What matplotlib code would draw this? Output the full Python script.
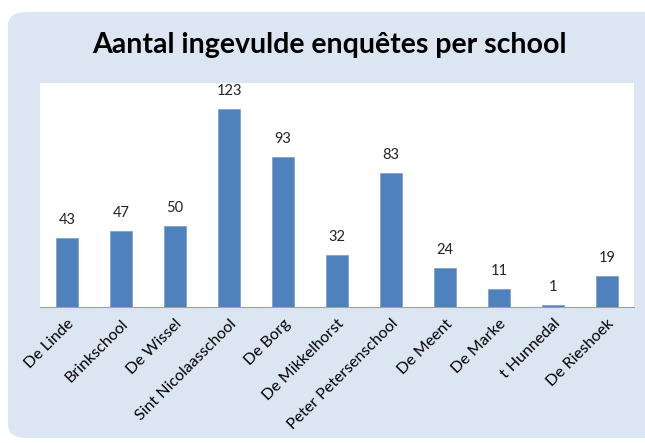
import matplotlib.pyplot as plt
from matplotlib.patches import FancyBboxPatch

scholen = ['De Linde', 'Brinkschool', 'De Wissel', 'Sint Nicolaasschool', 'De Borg',
           'De Mikkelhorst', 'Peter Petersenschool', 'De Meent', 'De Marke',
           't Hunnedal', 'De Rieshoek']
aantallen = [43, 47, 50, 123, 93, 32, 83, 24, 11, 1, 19]

plt.rcParams['font.family'] = ['Lato', 'DejaVu Sans']

fig = plt.figure(figsize=(6.45, 4.43), dpi=100)
fig.patch.set_facecolor('white')

# rounded light blue chart area
box = FancyBboxPatch((8 / 645, 5 / 443), 660 / 645, 426 / 443,
                     boxstyle='round,pad=0,rounding_size=0.03',
                     transform=fig.transFigure, facecolor='#DCE6F2',
                     edgecolor='none', zorder=-5)
fig.patches.append(box)

ax = fig.add_axes([40 / 645, (443 - 307) / 443, 594 / 645, 224 / 443])
ax.set_zorder(2)
ax.set_facecolor('white')

x = range(len(scholen))
bars = ax.bar(x, aantallen, width=0.4, color='#4F81BD', edgecolor='#7FA3D0', linewidth=0.6)
for b, v in zip(bars, aantallen):
    ax.annotate(str(v), (b.get_x() + b.get_width() / 2, v), xytext=(0, 8),
                textcoords='offset points', ha='center', va='bottom', fontsize=10.5, color='#222222')

ax.set_xlim(-0.5, len(scholen) - 0.5)
ax.set_ylim(0, 139)
ax.set_yticks([])
ax.set_xticks(list(x))
ax.set_xticklabels(scholen, rotation=45, ha='right', rotation_mode='anchor', fontsize=11.5)
ax.tick_params(axis='x', length=0, pad=7)
for s in ['top', 'right', 'left']:
    ax.spines[s].set_visible(False)
ax.spines['bottom'].set_color('#A0A0A0')

fig.text(329 / 645, 1 - 45 / 443, 'Aantal ingevulde enquêtes per school', ha='center', va='center',
         fontsize=20.5, fontweight='bold', color='black')

fig.savefig('out.png', dpi=100)
